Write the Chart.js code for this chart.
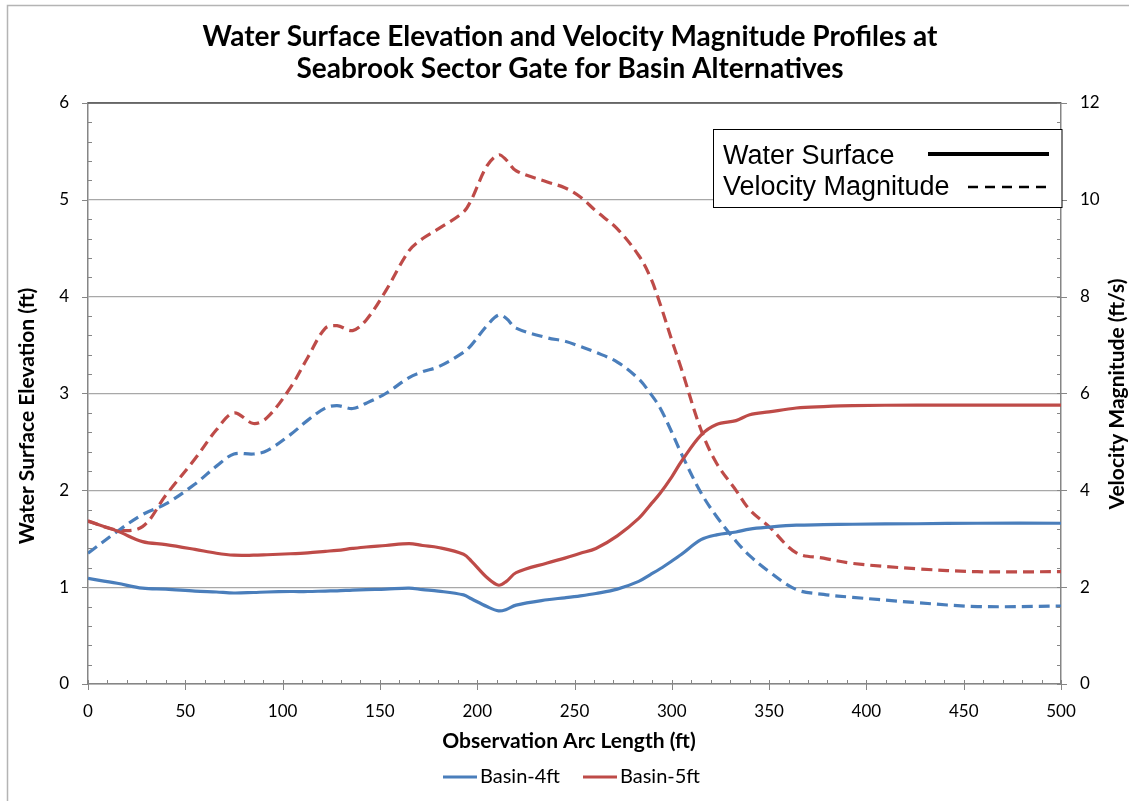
<!DOCTYPE html>
<html>
<head>
<meta charset="utf-8">
<script src="https://cdn.jsdelivr.net/npm/chart.js@4.4.1/dist/chart.umd.min.js"></script>
<style>
  html, body { margin: 0; padding: 0; background: #ffffff; }
  #wrap { width: 1129px; height: 801px; position: relative; }
</style>
</head>
<body>
<div id="wrap"><canvas id="c" width="1129" height="801"></canvas></div>
<script>
// ---- Data ----
const titleLines = ["Water Surface Elevation and Velocity Magnitude Profiles at", "Seabrook Sector Gate for Basin Alternatives"];
const xAxisTitle = "Observation Arc Length (ft)";
const yAxisTitle = "Water Surface Elevation (ft)";
const y2AxisTitle = "Velocity Magnitude (ft/s)";
const seriesNames = ["Basin-4ft", "Basin-5ft"];
const typeNames = ["Water Surface", "Velocity Magnitude"];

const arcLength = [0, 15, 28, 40, 55, 66, 75, 85, 92, 104, 113, 122, 128, 136, 143, 153, 165, 172, 180, 193, 197, 205, 211, 215, 220, 236, 245, 253, 261, 272, 283, 289, 294, 300, 305, 315, 323, 333, 340, 350, 364, 378, 393, 426, 457, 500];

// Water surface elevation (ft), left axis
const wsBasin4 = [1.09, 1.04, 0.99, 0.98, 0.96, 0.95, 0.94, 0.945, 0.95, 0.955, 0.955, 0.96, 0.962, 0.97, 0.975, 0.98, 0.99, 0.975, 0.96, 0.92, 0.88, 0.80, 0.755, 0.77, 0.815, 0.87, 0.89, 0.91, 0.935, 0.98, 1.06, 1.13, 1.19, 1.27, 1.34, 1.49, 1.54, 1.57, 1.60, 1.62, 1.64, 1.645, 1.65, 1.655, 1.66, 1.66];
const wsBasin5 = [1.68, 1.58, 1.47, 1.44, 1.39, 1.35, 1.33, 1.33, 1.335, 1.345, 1.355, 1.37, 1.38, 1.40, 1.415, 1.43, 1.45, 1.43, 1.41, 1.34, 1.27, 1.10, 1.02, 1.06, 1.15, 1.25, 1.30, 1.35, 1.40, 1.53, 1.71, 1.85, 1.97, 2.14, 2.30, 2.57, 2.68, 2.72, 2.78, 2.81, 2.85, 2.865, 2.875, 2.88, 2.88, 2.88];

// Velocity magnitude (ft/s), right axis
const velBasin4 = [2.70, 3.15, 3.50, 3.72, 4.13, 4.50, 4.75, 4.75, 4.82, 5.15, 5.45, 5.70, 5.75, 5.69, 5.80, 6.00, 6.33, 6.45, 6.55, 6.85, 7.00, 7.40, 7.62, 7.55, 7.35, 7.15, 7.08, 6.97, 6.85, 6.65, 6.30, 6.00, 5.70, 5.20, 4.75, 3.95, 3.46, 2.95, 2.65, 2.32, 1.95, 1.85, 1.79, 1.68, 1.60, 1.61];
const velBasin5 = [3.37, 3.18, 3.25, 3.90, 4.65, 5.25, 5.60, 5.38, 5.50, 6.12, 6.75, 7.35, 7.40, 7.30, 7.52, 8.12, 8.95, 9.20, 9.40, 9.75, 10.0, 10.70, 10.93, 10.82, 10.60, 10.37, 10.25, 10.06, 9.77, 9.40, 8.85, 8.40, 7.85, 7.10, 6.50, 5.25, 4.56, 4.00, 3.60, 3.25, 2.71, 2.60, 2.49, 2.38, 2.32, 2.32];

const xRange = [0, 500, 50, 10];      // min, max, major step, minor step
const yRange = [0, 6, 1, 0.2];
const y2Range = [0, 12, 2, 0.4];

// ---- Styles ----
const BLUE = '#4A7EBB';
const RED = '#BE4B48';
const FONT = 'Lato, "Open Sans", sans-serif';
const AXIS_GRAY = '#868686';

function pts(ys) { return arcLength.map((x, i) => ({ x: x, y: ys[i] })); }

const lineBase = { pointRadius: 0, pointHoverRadius: 0, borderWidth: 3.2, tension: 0.35, fill: false };

const datasets = [
  Object.assign({ label: seriesNames[0] + ' ' + typeNames[0], data: pts(wsBasin4), borderColor: BLUE, yAxisID: 'y' }, lineBase),
  Object.assign({ label: seriesNames[1] + ' ' + typeNames[0], data: pts(wsBasin5), borderColor: RED, yAxisID: 'y' }, lineBase),
  Object.assign({ label: seriesNames[0] + ' ' + typeNames[1], data: pts(velBasin4), borderColor: BLUE, borderDash: [11, 6], yAxisID: 'y2' }, lineBase),
  Object.assign({ label: seriesNames[1] + ' ' + typeNames[1], data: pts(velBasin5), borderColor: RED, borderDash: [11, 6], yAxisID: 'y2' }, lineBase)
];

const decorPlugin = {
  id: 'decor',
  afterDraw(chart) {
    const ctx = chart.ctx;
    const a = chart.chartArea;
    const xs = chart.scales.x, ys = chart.scales.y, y2s = chart.scales.y2;
    ctx.save();

    // outer chart border (top & left visible)
    ctx.strokeStyle = '#b4b4b4';
    ctx.lineWidth = 1.5;
    ctx.beginPath();
    ctx.moveTo(7.5, 820); ctx.lineTo(7.5, 5.5); ctx.lineTo(1140, 5.5);
    ctx.stroke();

    // darker top line of plot
    ctx.strokeStyle = '#505050';
    ctx.lineWidth = 1.5;
    ctx.beginPath(); ctx.moveTo(a.left, a.top); ctx.lineTo(a.right, a.top); ctx.stroke();

    // tick marks
    ctx.strokeStyle = AXIS_GRAY;
    ctx.lineWidth = 1;
    for (let v = xRange[0]; v <= xRange[1] + 1e-9; v += xRange[3]) {
      const px = Math.round(xs.getPixelForValue(v)) + 0.5;
      const major = Math.abs(v / xRange[2] - Math.round(v / xRange[2])) < 1e-6;
      ctx.beginPath();
      ctx.moveTo(px, a.bottom - 4);
      ctx.lineTo(px, major ? a.bottom + 6 : a.bottom);
      ctx.stroke();
    }
    for (let v = yRange[0]; v <= yRange[1] + 1e-9; v += yRange[3]) {
      const py = Math.round(ys.getPixelForValue(v)) + 0.5;
      const major = Math.abs(v / yRange[2] - Math.round(v / yRange[2])) < 1e-6;
      ctx.beginPath();
      if (major) { ctx.moveTo(a.left - 6, py); ctx.lineTo(a.left, py); }
      else { ctx.moveTo(a.left, py); ctx.lineTo(a.left + 4, py); }
      ctx.stroke();
    }
    for (let v = y2Range[0]; v <= y2Range[1] + 1e-9; v += y2Range[3]) {
      const py = Math.round(y2s.getPixelForValue(v)) + 0.5;
      const major = Math.abs(v / y2Range[2] - Math.round(v / y2Range[2])) < 1e-6;
      ctx.beginPath();
      ctx.moveTo(a.right - 4, py);
      ctx.lineTo(major ? a.right + 6 : a.right, py);
      ctx.stroke();
    }

    // title
    ctx.fillStyle = '#000';
    ctx.textAlign = 'center';
    ctx.textBaseline = 'alphabetic';
    ctx.font = 'bold 28px ' + FONT;
    ctx.fillText(titleLines[0], 570, 46);
    ctx.fillText(titleLines[1], 570, 78);

    // axis titles
    ctx.textBaseline = 'middle';
    ctx.font = 'bold 21px ' + FONT;
    ctx.fillText(xAxisTitle, 569, 741);
    ctx.save();
    ctx.translate(27, 416); ctx.rotate(-Math.PI / 2);
    ctx.fillText(yAxisTitle, 0, 0);
    ctx.restore();
    ctx.save();
    ctx.translate(1117, 394); ctx.rotate(-Math.PI / 2);
    ctx.fillText(y2AxisTitle, 0, 0);
    ctx.restore();

    // inner legend box (line styles)
    ctx.fillStyle = '#fff';
    ctx.fillRect(713.5, 129.5, 348.5, 78);
    ctx.strokeStyle = '#000';
    ctx.lineWidth = 1;
    ctx.strokeRect(713.5, 129.5, 348.5, 78);
    ctx.fillStyle = '#000';
    ctx.textAlign = 'left';
    ctx.textBaseline = 'alphabetic';
    ctx.font = '27px "Liberation Sans", Arial, sans-serif';
    ctx.fillText(typeNames[0], 723, 164);
    ctx.fillText(typeNames[1], 723, 195);
    ctx.lineWidth = 4;
    ctx.beginPath(); ctx.moveTo(928, 154); ctx.lineTo(1049, 154); ctx.stroke();
    ctx.lineWidth = 2.5;
    ctx.setLineDash([10, 7]);
    ctx.beginPath(); ctx.moveTo(968, 187); ctx.lineTo(1050, 187); ctx.stroke();
    ctx.setLineDash([]);

    // bottom legend (series colours)
    ctx.textBaseline = 'middle';
    ctx.font = '20px ' + FONT;
    ctx.lineWidth = 3;
    ctx.strokeStyle = BLUE;
    ctx.beginPath(); ctx.moveTo(443, 777); ctx.lineTo(477, 777); ctx.stroke();
    ctx.fillText(seriesNames[0], 480, 777);
    ctx.strokeStyle = RED;
    ctx.beginPath(); ctx.moveTo(583, 777); ctx.lineTo(617, 777); ctx.stroke();
    ctx.fillText(seriesNames[1], 620, 777);

    ctx.restore();
  }
};

new Chart(document.getElementById('c'), {
  type: 'line',
  data: { datasets: datasets },
  options: {
    responsive: false,
    animation: false,
    events: [],
    layout: { padding: { top: 103, left: 0, right: 0, bottom: 0 } },
    plugins: { legend: { display: false }, title: { display: false }, tooltip: { enabled: false } },
    scales: {
      x: {
        type: 'linear', min: xRange[0], max: xRange[1],
        ticks: { stepSize: xRange[2], color: '#000', font: { family: FONT, size: 17 }, padding: 9, maxRotation: 0 },
        grid: { display: false },
        border: { display: true, color: AXIS_GRAY, width: 1.5 },
        afterFit(s) { s.height = 117; }
      },
      y: {
        type: 'linear', position: 'left', min: yRange[0], max: yRange[1],
        ticks: { stepSize: yRange[2], color: '#000', font: { family: FONT, size: 17 }, padding: 19 },
        grid: { color: '#a8a8a8', lineWidth: 1.2, drawTicks: false },
        border: { display: true, color: AXIS_GRAY, width: 1.5 },
        afterFit(s) { s.width = 88; }
      },
      y2: {
        type: 'linear', position: 'right', min: y2Range[0], max: y2Range[1],
        ticks: { stepSize: y2Range[2], color: '#000', font: { family: FONT, size: 17 }, padding: 19 },
        grid: { drawOnChartArea: false, drawTicks: false },
        border: { display: true, color: AXIS_GRAY, width: 1.5 },
        afterFit(s) { s.width = 68; }
      }
    }
  },
  plugins: [decorPlugin]
});
</script>
</body>
</html>
